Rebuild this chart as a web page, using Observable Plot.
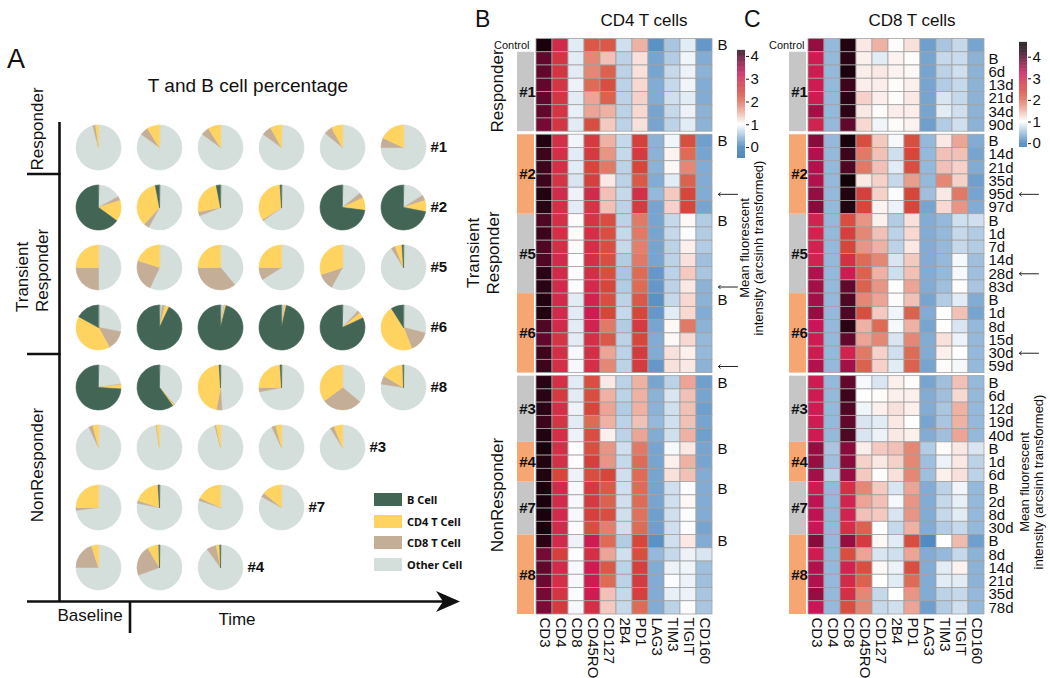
<!DOCTYPE html>
<html><head><meta charset="utf-8">
<script src="https://cdn.jsdelivr.net/npm/d3@7"></script>
<script src="https://cdn.jsdelivr.net/npm/@observablehq/plot@0.6"></script>
<style>
html,body{margin:0;padding:0;background:#fff;}
#wrap{position:relative;width:1050px;height:678px;overflow:hidden;font-family:"Liberation Sans",Arial,sans-serif;background:#fff;}
.pieleg-swatch{padding-bottom:6.7px !important;font-weight:bold;font-size:11px;color:#111;}
.pieleg-swatch svg{margin-right:5px !important;}
</style></head><body><div id="wrap"></div>
<script>
const FONT = "Liberation Sans, Arial, sans-serif";

// ---------------- Panel A data: pie percentages ----------------
const pieRows = ["#1","#2","#5","#6","#8","#3","#7","#4"];
const cellTypes = ["B Cell","CD4 T Cell","CD8 T Cell","Other Cell"];
const pieColors = ["#436555","#fed360","#c5ae98","#d4dedb"];
const pieB = [
 [0,0,0,0,0,0],
 [65,3,3,1,73,72],
 [0,0,0,0,0,1],
 [17,93,96,96.5,82,9],
 [74,60,1,1,0,0.5],
 [0,0,0,0,0],
 [0,1,0,0],
 [0,0.5,0.5]
];
const pieCD4 = [
 [2,9,9,8,8,18],
 [15,35,25,33,9,8],
 [25,20,25,25,30,5],
 [41,3,1,1,4,47],
 [3,1,46,24,35,16],
 [4,2,3,4,6],
 [25,19,18,14],
 [5,8,2.5]
];
const pieCD8 = [
 [2,6,6,7,6,7],
 [3,4,3,1,4,4],
 [25,23,36,9,12,3],
 [14,2,0.5,0.5,2,15],
 [0.5,0.5,4,3,29,6],
 [3,0.5,1,3,3],
 [2,2,2,3],
 [20,22,7]
];
const pieOther = [
 [96,85,85,85,86,75],
 [17,58,69,65,14,16],
 [50,57,39,66,58,91],
 [28,2,2.5,2,12,29],
 [22.5,38.5,49,72,36,77.5],
 [93,97.5,96,93,91],
 [73,78,80,83],
 [75,69.5,90]
];

// ---------------- Panels B / C data: heatmaps ----------------
const markers = ["CD3","CD4","CD8","CD45RO","CD127","2B4","PD1","LAG3","TIM3","TIGIT","CD160"];
const rowGroup = ["Control",
 "#1","#1","#1","#1","#1","#1",
 "#2","#2","#2","#2","#2","#2",
 "#5","#5","#5","#5","#5","#5",
 "#6","#6","#6","#6","#6","#6",
 "#3","#3","#3","#3","#3",
 "#4","#4","#4",
 "#7","#7","#7","#7",
 "#8","#8","#8","#8","#8","#8"];
const rowTime = ["",
 "B","6d","13d","21d","34d","90d",
 "B","14d","21d","35d","95d","97d",
 "B","1d","7d","14d","28d","83d",
 "B","1d","8d","15d","30d","59d",
 "B","6d","12d","19d","40d",
 "B","1d","6d",
 "B","2d","8d","30d",
 "B","8d","14d","21d","35d","78d"];
const orangeGroups = ["#2","#6","#4","#8"];
const cd4Arrows = [["#2","95d"],["#5","83d"],["#6","59d"]];
const cd8Arrows = [["#2","95d"],["#5","28d"],["#6","30d"]];

const cd4Heat = [
 [4.4,2.9,0.85,2.2,2.2,0.75,1.5,0.15,0.55,0.85,0.2],
 [3.9,2.7,0.85,1.8,1.4,0.65,1.2,0.3,0.6,0.92,0.35],
 [3.9,2.7,0.85,1.8,2.1,0.65,1.2,0.3,0.7,0.9,0.4],
 [3.9,2.7,0.9,2.0,2.3,0.65,1.25,0.35,0.7,0.92,0.35],
 [3.9,2.7,0.85,1.6,2.1,0.65,1.3,0.35,0.75,0.85,0.35],
 [3.9,2.7,0.88,1.6,1.5,0.65,1.25,0.3,0.7,0.9,0.4],
 [3.8,2.7,0.85,2.3,1.35,0.65,1.2,0.3,0.65,0.85,0.4],
 [4.3,2.8,0.92,2.6,1.5,0.7,2.5,0.4,0.92,2.3,0.25],
 [4.1,2.8,0.85,2.6,1.7,0.7,2.6,0.4,1.08,2.0,0.3],
 [4.1,2.8,0.85,2.4,1.9,0.65,2.4,0.4,1.05,1.8,0.35],
 [4.1,2.7,0.8,2.5,1.15,0.65,2.2,0.35,0.85,2.1,0.35],
 [4.3,2.9,0.9,2.9,1.4,0.7,2.8,0.45,1.35,2.4,0.35],
 [4.2,2.8,0.85,2.7,1.4,0.65,2.6,0.3,1.3,2.4,0.3],
 [4.0,2.8,1.02,2.7,2.3,0.65,1.9,0.3,0.7,1.05,0.6],
 [4.1,2.8,1.02,2.8,2.3,0.7,1.9,0.3,0.7,0.98,0.6],
 [4.0,2.8,1.02,2.8,2.3,0.7,1.85,0.3,0.65,1.1,0.6],
 [4.0,2.9,1.0,2.8,2.3,0.6,1.9,0.3,0.65,1.2,0.5],
 [4.2,2.9,1.0,2.8,2.3,0.55,2.0,0.2,0.65,1.35,0.55],
 [4.2,2.9,1.0,2.9,2.4,0.6,2.0,0.2,0.65,1.15,0.4],
 [4.3,2.9,0.85,3.0,2.3,0.65,2.2,0.15,0.7,1.25,0.4],
 [4.3,2.9,0.85,3.1,2.4,0.7,2.4,0.2,0.85,1.25,0.35],
 [4.0,2.9,0.85,3.0,1.9,0.6,2.6,0.3,1.05,1.9,0.4],
 [3.9,2.7,0.85,2.8,2.2,0.65,2.4,0.35,1.05,1.25,0.45],
 [4.1,2.8,0.95,2.8,1.6,0.65,2.6,0.35,1.2,1.1,0.45],
 [4.1,2.8,0.95,2.8,1.8,0.65,2.6,0.2,1.2,1.15,0.4],
 [4.2,2.8,0.85,2.3,1.15,0.65,1.5,0.3,0.65,1.6,0.25],
 [4.2,2.6,0.85,2.3,1.5,0.65,1.5,0.4,0.8,1.4,0.3],
 [4.2,2.8,0.9,2.4,1.6,0.6,1.5,0.4,0.75,1.4,0.25],
 [4.1,2.7,0.85,2.0,1.5,0.65,1.4,0.45,0.75,1.4,0.3],
 [4.3,2.8,0.9,2.3,1.1,0.65,1.6,0.35,0.75,1.5,0.25],
 [4.4,2.8,1.0,2.3,1.7,0.75,1.9,0.3,0.95,1.15,0.3],
 [4.3,2.8,1.0,2.5,1.7,0.7,2.0,0.3,1.1,1.5,0.3],
 [4.3,2.4,0.9,2.3,2.4,0.75,2.0,0.3,1.2,1.4,0.35],
 [4.4,2.9,0.95,2.6,2.2,0.75,2.0,0.3,0.75,0.98,0.35],
 [4.4,2.9,0.95,2.6,2.1,0.75,2.0,0.3,0.75,1.05,0.35],
 [4.4,2.9,0.95,2.5,2.3,0.75,1.95,0.25,0.75,0.98,0.35],
 [4.4,2.9,0.98,2.3,1.85,0.75,2.0,0.25,0.75,0.98,0.3],
 [4.2,2.9,0.9,3.1,2.0,0.6,2.4,0.15,0.75,1.15,0.35],
 [3.8,2.5,1.0,2.8,1.6,0.75,2.3,0.45,0.7,0.9,0.8],
 [3.9,2.9,0.95,3.1,2.2,0.65,2.5,0.35,0.9,0.92,0.5],
 [3.85,2.8,0.95,3.1,2.0,0.65,2.6,0.35,0.98,0.9,0.5],
 [3.8,2.7,0.98,3.1,1.4,0.7,2.5,0.35,0.88,0.9,0.55],
 [3.75,2.6,0.95,2.8,1.35,0.7,2.0,0.35,0.65,0.98,0.55]
];
const cd8Heat = [
 [3.6,0.45,4.3,1.15,1.5,1.02,1.2,0.25,0.55,0.7,0.3],
 [3.1,0.45,4.2,1.1,0.85,1.08,1.02,0.3,0.7,0.72,0.4],
 [3.1,0.45,4.4,1.12,1.15,1.08,1.05,0.3,0.65,0.75,0.4],
 [3.1,0.45,4.1,1.12,1.12,1.02,1.1,0.3,0.6,0.7,0.4],
 [3.1,0.45,4.2,1.3,1.12,1.02,1.15,0.3,0.8,0.7,0.4],
 [3.5,0.45,4.2,1.15,1.02,1.12,1.12,0.3,0.85,0.75,0.4],
 [3.0,0.45,3.9,1.25,0.92,1.02,1.08,0.25,0.6,0.75,0.4],
 [3.7,0.45,4.4,2.3,1.35,0.95,2.3,0.45,1.15,1.6,0.35],
 [3.4,0.45,4.1,1.9,1.4,0.75,2.4,0.45,1.4,1.4,0.3],
 [3.4,0.45,4.0,1.9,1.4,0.85,2.3,0.45,1.4,1.3,0.35],
 [3.4,0.45,4.5,1.15,1.3,0.7,1.65,0.45,1.8,1.3,0.25],
 [3.6,0.45,4.3,2.5,1.3,0.98,2.4,0.5,1.15,1.9,0.3],
 [3.7,0.45,4.3,2.4,1.08,0.9,2.4,0.3,1.25,1.7,0.35],
 [3.0,0.45,2.3,1.7,1.1,0.6,1.2,0.35,0.45,0.75,0.75],
 [3.0,0.45,2.5,1.8,1.4,0.65,1.25,0.35,0.45,0.7,0.6],
 [3.0,0.45,2.4,1.7,1.5,0.65,1.15,0.35,0.45,0.7,0.6],
 [3.0,0.45,2.8,2.0,1.8,0.8,1.35,0.35,0.45,0.95,0.5],
 [3.4,0.45,3.1,2.1,1.5,0.75,1.4,0.35,0.45,0.95,0.5],
 [3.5,0.45,3.9,2.1,1.7,1.0,1.6,0.35,0.5,1.02,0.55],
 [3.5,0.45,4.0,1.8,1.6,1.02,1.4,0.3,0.6,0.85,0.35],
 [3.6,0.45,4.0,2.3,1.35,0.92,2.1,0.35,1.0,1.4,0.3],
 [3.2,0.45,4.2,1.5,2.0,0.95,1.5,0.3,1.0,0.8,0.45],
 [3.1,0.45,3.9,1.6,1.8,0.8,1.8,0.35,1.2,0.9,0.45],
 [3.1,0.45,3.0,1.9,1.3,0.75,2.0,0.35,1.1,1.0,0.45],
 [3.4,0.45,3.5,2.1,1.3,0.85,2.1,0.3,1.02,0.95,0.45],
 [3.1,0.45,3.9,0.95,0.8,1.1,1.02,0.3,0.5,1.4,0.45],
 [3.1,0.45,4.1,1.0,1.02,1.1,1.1,0.35,0.5,1.25,0.45],
 [3.1,0.45,4.0,0.92,1.1,1.2,1.1,0.35,0.55,1.5,0.45],
 [3.1,0.45,3.9,0.8,0.85,1.15,1.0,0.3,0.55,1.5,0.45],
 [3.1,0.45,4.0,0.8,0.9,1.15,1.1,0.35,0.5,1.6,0.45],
 [3.6,0.55,3.7,1.12,1.35,1.4,1.8,0.6,1.02,1.15,0.8],
 [3.6,0.5,3.7,1.3,1.15,1.3,1.8,0.5,0.9,1.15,0.65],
 [3.5,0.65,3.6,1.35,1.02,1.2,1.8,0.5,1.1,1.2,0.65],
 [3.1,0.45,2.8,1.8,1.35,0.8,1.6,0.35,0.65,0.92,0.45],
 [3.3,0.45,3.0,1.6,1.4,0.95,1.7,0.35,0.7,0.88,0.45],
 [3.3,0.45,3.0,1.4,1.35,0.8,1.7,0.35,0.7,0.85,0.45],
 [3.2,0.45,2.8,2.1,1.0,0.7,1.5,0.35,0.6,0.7,0.45],
 [3.7,0.45,3.6,2.6,1.05,0.85,2.3,0.1,1.0,1.45,0.25],
 [3.1,0.45,2.3,1.6,0.8,0.75,1.6,0.35,0.45,0.7,0.4],
 [3.4,0.45,3.0,2.3,1.05,0.9,2.3,0.35,0.85,1.08,0.4],
 [3.4,0.45,2.9,2.1,1.0,0.85,2.0,0.35,0.85,0.85,0.4],
 [3.6,0.45,2.8,1.8,0.7,1.0,1.7,0.35,0.65,0.7,0.45],
 [3.2,0.45,2.3,1.8,0.7,0.75,1.6,0.25,0.6,0.75,0.45]
];

const heatDomain = [-0.6, 0, 0.5, 1, 1.5, 2, 2.4, 2.9, 3.2, 3.7, 4.2, 4.7];
const heatRange = ["#2a67a6","#3e7ebb","#9fbfdd","#ffffff","#eeb2a5","#dd6b55","#d6463b","#d22a4a","#cc1558","#880b3c","#2a0414","#000000"];

// ---------------- helpers ----------------
const wrap = document.getElementById("wrap");
function place(node){ node.style.position="absolute"; node.style.left="0px"; node.style.top="0px"; wrap.appendChild(node); return node; }
function showErr(e){ const p=document.createElement("pre"); p.style.cssText="position:absolute;left:0;top:640px;color:red;font-size:10px;z-index:9"; p.textContent=String(e&&e.stack||e); wrap.appendChild(p); }
const baseStyle = {background:"transparent", overflow:"visible", fontFamily:FONT, fontSize:"15px", color:"#111"};

// ---------------- Panel A ----------------
const wedgeShape = {
  draw(context, l, r) {
    const a0 = -Math.PI/2, a1 = a0 + l*Math.PI/180;
    context.moveTo(0,0);
    context.arc(0,0,r,a0,a1);
    context.closePath();
  }
};
const wedges = [];
pieRows.forEach((label, r) => {
  pieB[r].forEach((_, c) => {
    const vals = {"Other Cell": pieOther[r][c], "CD8 T Cell": pieCD8[r][c], "CD4 T Cell": pieCD4[r][c], "B Cell": pieB[r][c]};
    const total = d3.sum(Object.values(vals));
    let start = 0;
    for (const t of ["Other Cell","CD8 T Cell","CD4 T Cell","B Cell"]) {
      const span = vals[t]/total*360;
      if (span > 0) wedges.push({row:r, col:c, type:t, start, span});
      start += span;
    }
  });
});
const pieLabels = pieRows.map((l,r)=>({label:l,row:r,col:pieB[r].length-1}));
try {
  place(Plot.plot({
    width:1050, height:678, marginLeft:98, marginRight:647, marginTop:147, marginBottom:111,
    x:{domain:[0,5], axis:null}, y:{domain:[0,7], reverse:true, axis:null},
    color:{domain:cellTypes, range:pieColors},
    length:{type:"identity"},
    style:baseStyle,
    marks:[
      Plot.vector(wedges,{x:"col",y:"row",rotate:"start",length:"span",anchor:"start",shape:wedgeShape,r:22.5,fill:"type",stroke:"type",strokeWidth:0.6}),
      Plot.text(pieLabels,{x:"col",y:"row",text:"label",dx:27,textAnchor:"start",fontWeight:"bold",fontSize:15})
    ]
  }));
} catch(e){ showErr(e); }

try {
  const leg = Plot.legend({color:{type:"ordinal", domain:cellTypes, range:pieColors}, legend:"swatches", columns:1, swatchWidth:28, swatchHeight:13, className:"pieleg"});
  leg.style.position="absolute"; leg.style.left="374px"; leg.style.top="492px"; leg.style.width="120px";
  wrap.appendChild(leg);
} catch(e){ showErr(e); }

// ---------------- Panels B & C ----------------
const sectionOf = g => (g==="Control"||g==="#1") ? 0 : (["#2","#5","#6"].includes(g) ? 1 : 2);
const GAP = 0.23;
const rowPos = rowGroup.map((g,i) => i + sectionOf(g)*GAP);
const totalUnits = rowGroup.length + 2*GAP;
const groupSpans = [];
rowGroup.forEach((g,i) => {
  if (g === "Control") return;
  let s = groupSpans.find(d => d.g === g);
  if (!s) groupSpans.push(s = {g, y1: rowPos[i], y2: rowPos[i]+1, orange: orangeGroups.includes(g)});
  s.y2 = rowPos[i] + 1;
});
const colorOpts = {type:"linear", domain:heatDomain, range:heatRange};

function heatPlot(vals, cfg) {
  const cells = [];
  rowGroup.forEach((g,i) => markers.forEach((m,j) => cells.push({marker:m, y1:rowPos[i], y2:rowPos[i]+1, v:vals[i][j]})));
  const rowsInfo = rowGroup.map((g,i) => ({g, t:rowTime[i], yc:rowPos[i]+0.5}));
  const rightLabels = rowsInfo.map(d => ({...d, label: cfg.labelOf(d)})).filter(d => d.label);
  const arrows = cfg.arrows.map(([g,t]) => rowsInfo.find(d => d.g===g && d.t===t));
  return Plot.plot({
    width:1050, height:678, marginLeft:cfg.left, marginRight:1050-cfg.right, marginTop:38.5, marginBottom:64,
    x:{domain:["grp", ...markers], padding:0, axis:"bottom", tickRotate:90, tickSize:0, tickPadding:3, label:null, tickFormat:d => d==="grp" ? "" : d},
    y:{domain:[0,totalUnits], reverse:true, axis:null},
    color:colorOpts,
    style:baseStyle,
    marks:[
      Plot.barY(cells,{x:"marker", y1:"y1", y2:"y2", fill:"v", stroke:"#a2a2a2", strokeWidth:0.8}),
      Plot.barY(groupSpans.filter(d=>!d.orange),{x:()=>"grp", y1:"y1", y2:"y2", fill:"#c6c6c6", insetRight:2, insetLeft:-3}),
      Plot.barY(groupSpans.filter(d=>d.orange),{x:()=>"grp", y1:"y1", y2:"y2", fill:"#f5a672", insetRight:2, insetLeft:-3}),
      Plot.text(groupSpans,{x:()=>"grp", y:d=>(d.y1+d.y2)/2, text:"g", fontWeight:"bold", fontSize:15, dx:-1, fill:"#111"}),
      Plot.text(rowsInfo.filter(d=>d.g==="Control"),{x:()=>"grp", y:"yc", text:()=>"Control", textAnchor:"end", dx:cfg.ctrlDx, fontSize:11, fill:"#111"}),
      Plot.text(rightLabels,{x:()=>"CD160", y:"yc", text:"label", textAnchor:"start", dx:cfg.labDx, fontSize:15, fill:"#111"}),
      Plot.vector(arrows,{x:()=>"CD160", y:"yc", rotate:-90, length:19, anchor:"start", shape:"arrow", r:1.6, dx:cfg.arrowDx, stroke:"#222", strokeWidth:1})
    ]
  });
}
try {
  place(heatPlot(cd4Heat, {left:520, right:712, ctrlDx:1, labDx:13, arrowDx:33, arrows:cd4Arrows,
    labelOf: d => (d.g==="Control" || (d.t==="B" && d.g!=="#1")) ? "B" : ""}));
} catch(e){ showErr(e); }
try {
  place(heatPlot(cd8Heat, {left:792, right:984, ctrlDx:4, labDx:12, arrowDx:62, arrows:cd8Arrows,
    labelOf: d => d.t}));
} catch(e){ showErr(e); }

// colour legends
function rampPlot(left, top, bottom, lo, hi) {
  const step = 0.02;
  const ramp = d3.range(lo, hi, step).map(v => ({v}));
  return Plot.plot({
    width:1050, height:678, marginLeft:left, marginRight:1050-left-8, marginTop:top, marginBottom:678-bottom,
    x:{domain:[0,1], axis:null},
    y:{domain:[lo,hi], axis:"right", ticks:5, tickSize:3, tickPadding:2, label:null},
    color:colorOpts,
    style:baseStyle,
    marks:[Plot.rect(ramp,{x1:0, x2:1, y1:"v", y2:d=>d.v+step+0.005, fill:"v"})]
  });
}
try { place(rampPlot(737, 50, 158, -0.48, 4.26)); } catch(e){ showErr(e); }
try { place(rampPlot(1019, 42, 147, -0.18, 4.68)); } catch(e){ showErr(e); }

// ---------------- decorations (titles, axes, group labels) ----------------
function vtext(x, y, s, size, anchor="middle"){ return `<text transform="translate(${x},${y}) rotate(-90)" text-anchor="${anchor}" dominant-baseline="central" font-size="${size}">${s}</text>`; }
const deco = `<svg xmlns="http://www.w3.org/2000/svg" width="1050" height="678" style="position:absolute;left:0;top:0;overflow:visible" font-family="${FONT}" fill="#111">
<text x="7" y="68" font-size="27">A</text>
<text x="248" y="92" font-size="19" text-anchor="middle">T and B cell percentage</text>
<g stroke="#111" stroke-width="2.6" fill="none">
<line x1="59.5" y1="122" x2="59.5" y2="602"/>
<line x1="27" y1="174" x2="60.5" y2="174"/>
<line x1="27" y1="354" x2="60.5" y2="354"/>
<line x1="27" y1="601.5" x2="446" y2="601.5"/>
<line x1="130" y1="601" x2="130" y2="633"/>
</g>
<path d="M460,601.5 L436,591 L443,601.5 L436,612 Z" fill="#111"/>
<text x="90" y="621" font-size="17" text-anchor="middle">Baseline</text>
<text x="237" y="625" font-size="17" text-anchor="middle">Time</text>
${vtext(37,129,"Responder",17)}
${vtext(22,312,"Transient",17,"start")}
${vtext(42,312,"Responder",17,"start")}
${vtext(37,465,"NonResponder",17)}
<text x="475" y="27" font-size="23">B</text>
<text x="644" y="26" font-size="17" text-anchor="middle">CD4 T cells</text>
${vtext(497,91,"Responder",17)}
${vtext(473,253,"Transient",17)}
${vtext(493,253,"Responder",17)}
${vtext(497,495,"NonResponder",17)}
${vtext(744,248,"Mean fluorescent",13)}
${vtext(758,248,"intensity (arcsinh transformed)",13)}
<text x="744" y="27" font-size="23">C</text>
<text x="912" y="26" font-size="17" text-anchor="middle">CD8 T cells</text>
${vtext(1024,482,"Mean fluorescent",13)}
${vtext(1038,482,"intensity (arcsinh transformed)",13)}
</svg>`;
wrap.insertAdjacentHTML("beforeend", deco);
</script>
</body></html>
